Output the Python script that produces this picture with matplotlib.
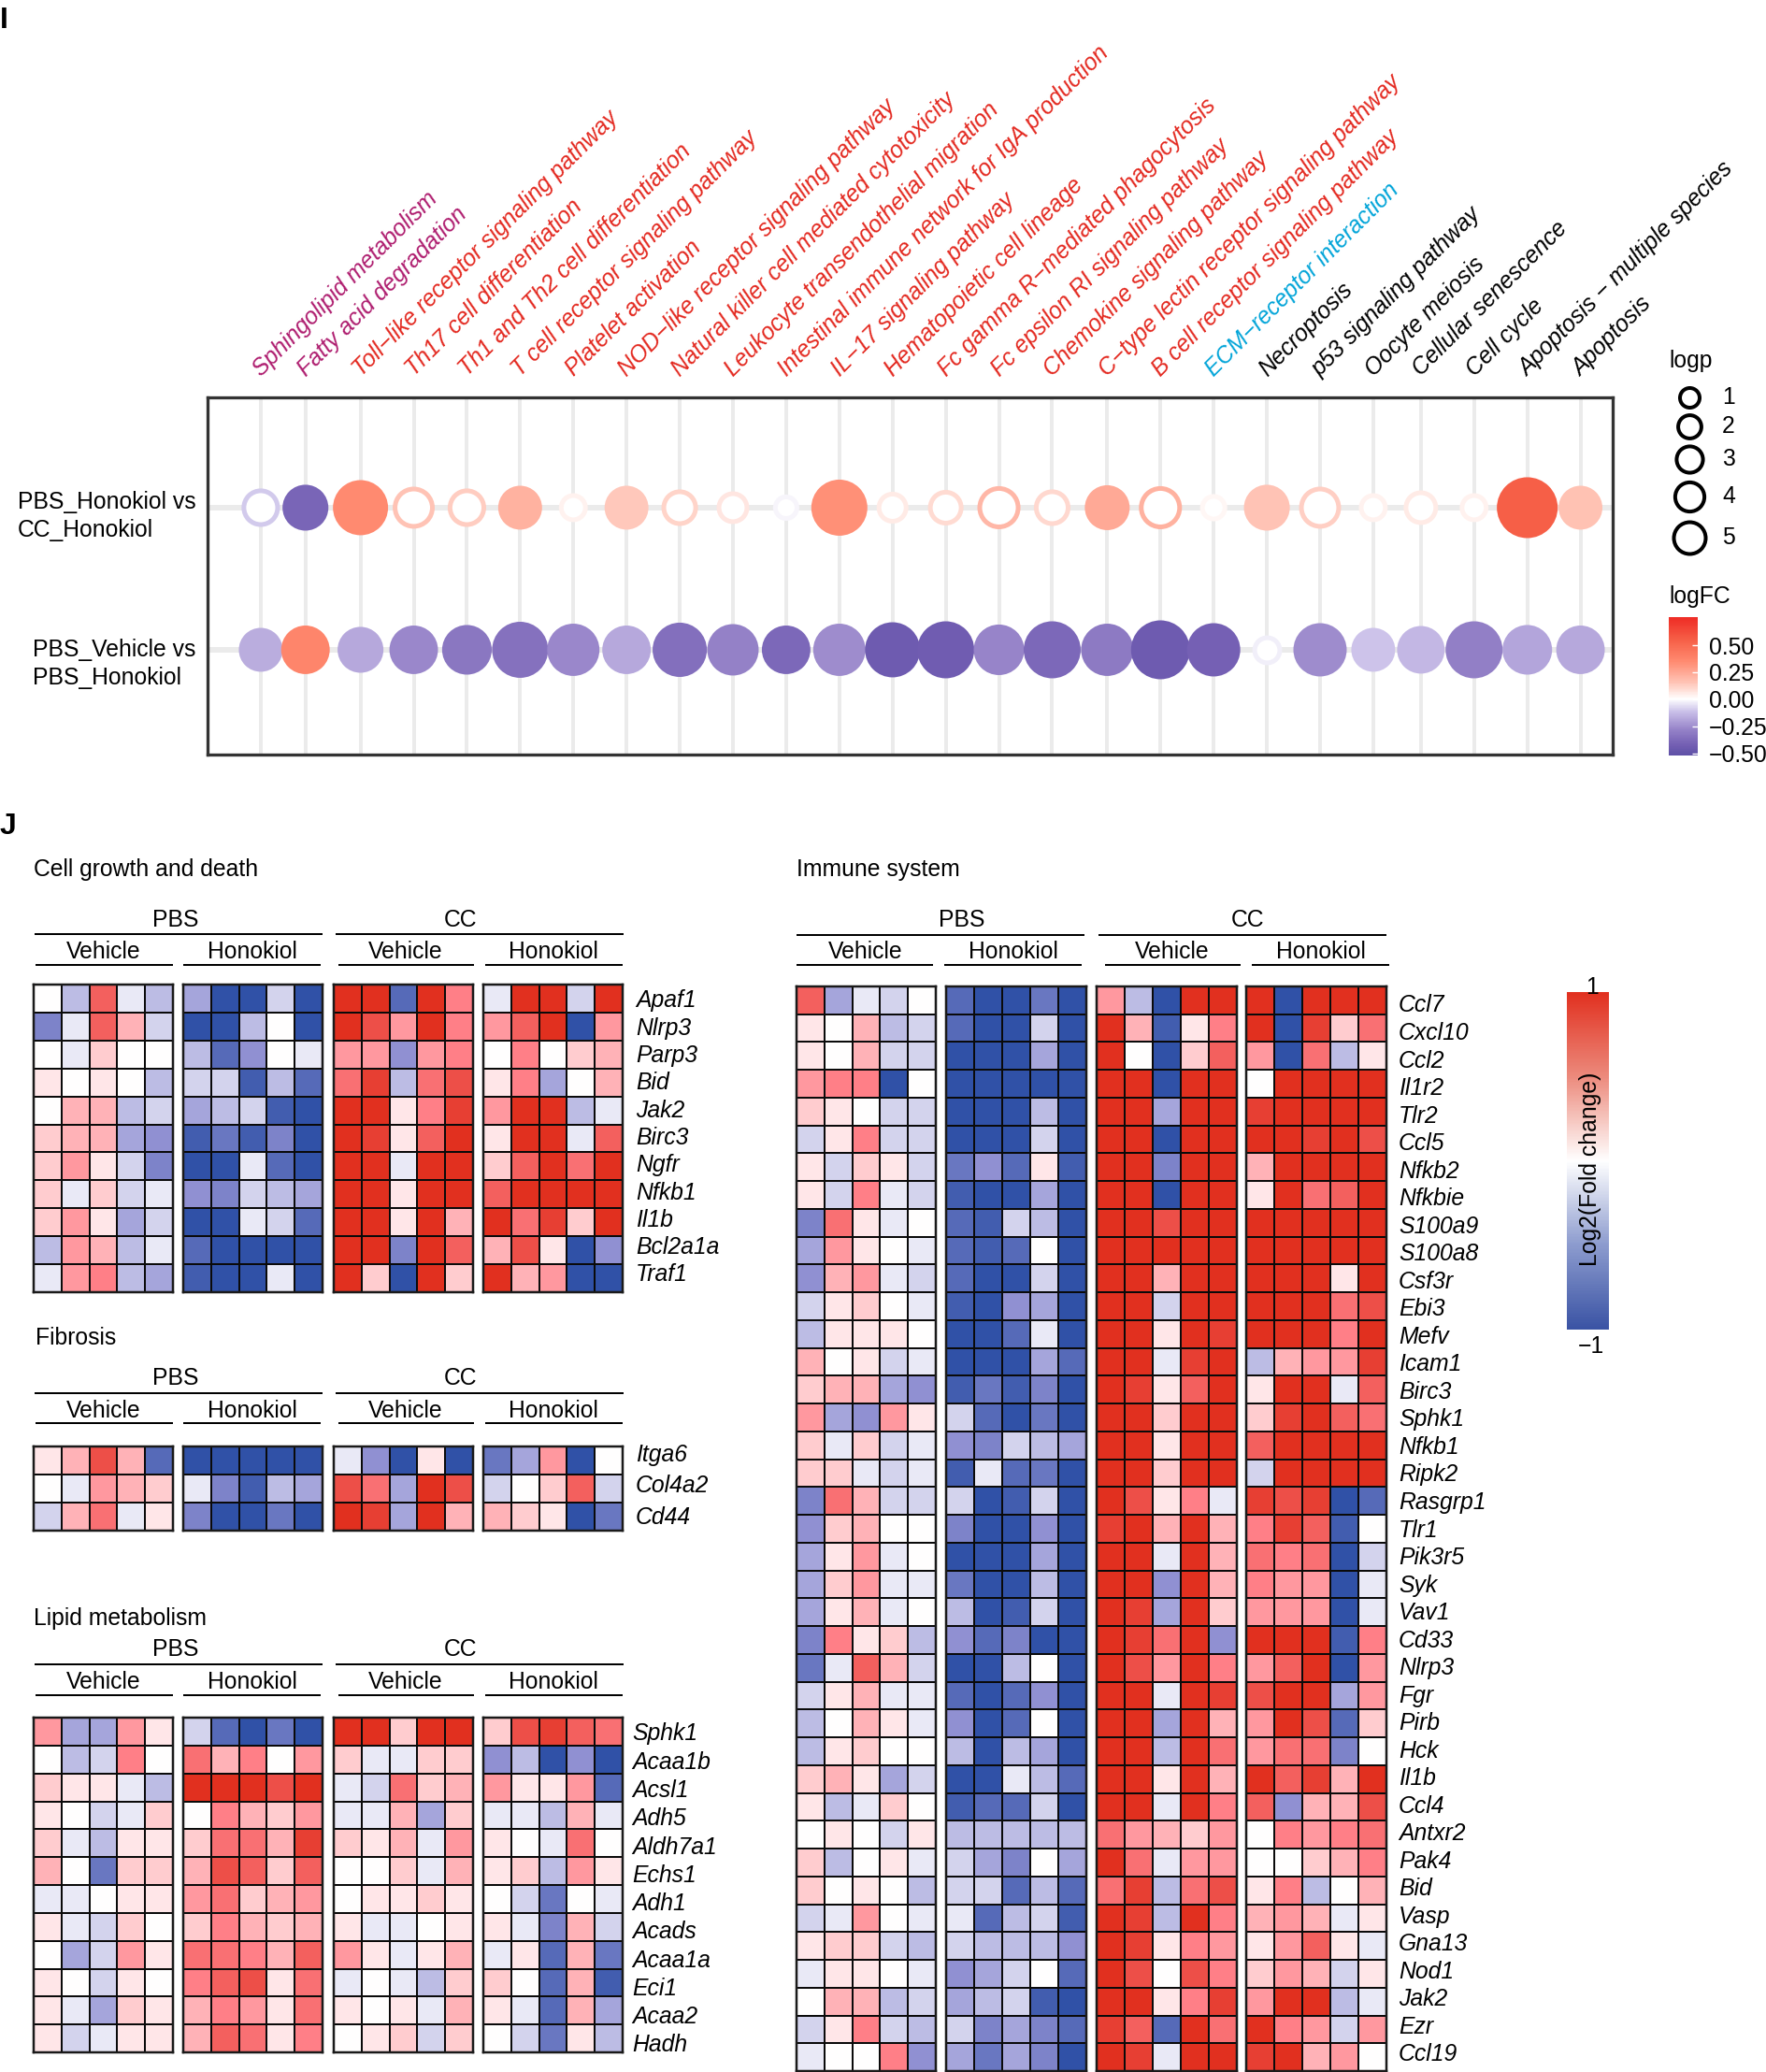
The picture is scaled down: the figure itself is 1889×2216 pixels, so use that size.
"""
KEGG pathway bubble plot (panel I) and log2 fold change heatmaps (panel J).
"""
import matplotlib
matplotlib.use("Agg")
import matplotlib.pyplot as plt
from matplotlib.cm import ScalarMappable
from matplotlib.colors import LinearSegmentedColormap, Normalize, TwoSlopeNorm
from matplotlib.transforms import ScaledTranslation
import numpy as np

WIDTH = 1890
HEIGHT = 2216
FONT = 17.8
PX = 0.72  # points per pixel at dpi 100

plt.rcParams["font.family"] = ["Liberation Sans", "DejaVu Sans"]
plt.rcParams["font.size"] = FONT

# Panel I data
pathways = [
    "Sphingolipid metabolism", "Fatty acid degradation", "Toll−like receptor signaling pathway",
    "Th17 cell differentiation", "Th1 and Th2 cell differentiation", "T cell receptor signaling pathway",
    "Platelet activation", "NOD−like receptor signaling pathway", "Natural killer cell mediated cytotoxicity",
    "Leukocyte transendothelial migration", "Intestinal immune network for IgA production",
    "IL−17 signaling pathway", "Hematopoietic cell lineage", "Fc gamma R−mediated phagocytosis",
    "Fc epsilon RI signaling pathway", "Chemokine signaling pathway", "C−type lectin receptor signaling pathway",
    "B cell receptor signaling pathway", "ECM−receptor interaction", "Necroptosis", "p53 signaling pathway",
    "Oocyte meiosis", "Cellular senescence", "Cell cycle", "Apoptosis − multiple species", "Apoptosis",
]
pathway_groups = ["lipid"] * 2 + ["immune"] * 16 + ["matrix"] + ["death"] * 7
comparisons = ["PBS_Honokiol vs\nCC_Honokiol", "PBS_Vehicle vs\nPBS_Honokiol"]
logp_cc = [6.2, 9.7, 14.9, 7.8, 6.2, 8.7, 2.6, 8.7, 5.4, 3.9, 1.8, 15.5, 3.6,
           5.0, 8.3, 5.4, 9.2, 8.3, 2.1, 9.7, 7.8, 2.6, 4.6, 2.6, 18.6, 8.7]
logfc_cc = [-0.10, -0.40, 0.35, 0.15, 0.13, 0.21, 0.03, 0.14, 0.11, 0.06, -0.02, 0.33, 0.05,
            0.09, 0.19, 0.10, 0.24, 0.21, 0.02, 0.15, 0.12, 0.03, 0.05, 0.03, 0.55, 0.16]
hollow_cc = [1, 0, 0, 1, 1, 0, 1, 0, 1, 1, 1, 0, 1, 1, 1, 1, 0, 1, 1, 0, 1, 1, 1, 1, 0, 0]
logp_pbs = [8.7, 11.1, 9.7, 11.1, 11.7, 15.5, 13.2, 11.1, 14.4, 12.7, 11.1, 13.2, 14.9,
            16.1, 12.2, 16.1, 13.2, 17.3, 13.8, 2.9, 13.8, 8.7, 10.6, 16.1, 11.7, 11.1]
logfc_pbs = [-0.17, 0.37, -0.18, -0.27, -0.33, -0.35, -0.27, -0.18, -0.36, -0.29, -0.39, -0.26, -0.45,
             -0.44, -0.28, -0.39, -0.32, -0.45, -0.42, -0.03, -0.26, -0.11, -0.14, -0.30, -0.19, -0.18]
hollow_pbs = [0] * 19 + [1] + [0] * 6
logp_legend = [1, 2, 3, 4, 5]
logfc_ticks = [-0.50, -0.25, 0.00, 0.25, 0.50]

# Panel J data, fold change in tenths of the colour range
growth_genes = ["Apaf1", "Nlrp3", "Parp3", "Bid", "Jak2", "Birc3", "Ngfr", "Nfkb1", "Il1b", "Bcl2a1a", "Traf1"]
growth_values = [
    [0, -3, 7, -1, -3, -4, -10, -10, -2, -10, 10, 10, -8, 10, 5, -1, 10, 10, -2, 10],
    [-6, -1, 7, 3, -2, -10, -10, -3, 0, -10, 10, 8, 4, 10, 5, 4, 7, 10, -10, 4],
    [0, -1, 2, 0, 0, -3, -8, -5, 0, -1, 4, 4, -5, 4, 5, 0, 5, 0, 2, 3],
    [1, 0, 1, 0, -3, -2, -2, -9, -3, -8, 6, 9, -3, 6, 8, 1, 5, -4, 0, 3],
    [0, 3, 3, -3, -2, -4, -3, -2, -9, -10, 10, 10, 1, 5, 9, 4, 10, 10, -3, -1],
    [2, 3, 3, -4, -5, -9, -7, -9, -6, -10, 10, 9, 1, 7, 10, 1, 10, 10, -1, 7],
    [2, 4, 1, -2, -6, -10, -10, -1, -8, -10, 10, 10, -1, 10, 10, 2, 7, 10, 6, 10],
    [2, -1, 2, -2, -1, -5, -6, -2, -3, -4, 10, 10, 1, 10, 10, 7, 10, 10, 10, 10],
    [2, 4, 1, -4, -2, -10, -10, -1, -2, -8, 10, 10, 1, 10, 3, 10, 6, 9, 2, 10],
    [-3, 4, 3, -3, -1, -8, -10, -10, -10, -10, 10, 10, -6, 10, 7, 3, 8, 1, -10, -5],
    [-1, 4, 5, -3, -4, -9, -10, -10, -1, -10, 10, 2, -10, 10, 2, 10, 3, 4, -10, -10],
]
fibrosis_genes = ["Itga6", "Col4a2", "Cd44"]
fibrosis_values = [
    [1, 3, 8, 3, -8, -10, -10, -10, -10, -10, -1, -5, -10, 1, -10, -7, -4, 4, -10, 0],
    [0, -1, 4, 3, 2, -1, -6, -9, -3, -4, 8, 6, -4, 10, 8, -2, 0, 2, 7, -2],
    [-2, 3, 6, -1, 1, -6, -10, -10, -7, -10, 10, 9, -4, 10, 3, 3, 2, 1, -10, -7],
]
lipid_genes = ["Sphk1", "Acaa1b", "Acsl1", "Adh5", "Aldh7a1", "Echs1", "Adh1", "Acads", "Acaa1a", "Eci1", "Acaa2", "Hadh"]
lipid_values = [
    [4, -4, -4, 4, 1, -2, -8, -10, -7, -10, 10, 10, 2, 10, 10, 2, 8, 9, 7, 6],
    [0, -3, -2, 5, 0, 6, 3, 5, 0, 4, 2, -1, -1, 2, 2, -5, -3, -10, -5, -10],
    [2, 1, 1, -1, -3, 10, 10, 10, 8, 10, -1, -2, 6, 2, 3, 4, 1, 1, 4, -8],
    [1, 0, -2, -1, 2, 0, 5, 3, 2, 4, -1, -1, 3, -4, 2, -1, -1, -3, 3, -1],
    [2, -1, -3, 1, 1, 2, 6, 6, 3, 9, 2, 1, 3, -1, 4, 1, 0, -1, 6, 0],
    [3, 0, -7, 2, 2, 3, 8, 7, 2, 7, 0, 0, 2, -1, 3, 1, 2, -3, 4, 1],
    [-1, -1, 0, 1, 1, 4, 6, 2, 3, 4, 0, 1, 1, 2, 1, 0, -2, -7, 0, -1],
    [1, -1, -2, 2, 0, 2, 5, 3, 2, 3, 1, -1, -1, 0, 1, 1, -1, -6, 3, -2],
    [0, -4, -2, 4, 1, 6, 6, 5, 3, 7, 4, 1, -1, 1, 3, -1, 1, -8, 3, -7],
    [1, 0, -2, 1, 0, 5, 7, 8, 1, 6, -1, 0, -1, -3, 2, 2, 0, -8, 3, -9],
    [1, -1, -4, 2, 1, 3, 5, 4, 1, 6, 1, 0, 1, -1, 3, 1, -1, -8, 3, -4],
    [1, -2, -1, 1, 1, 3, 7, 6, 1, 5, 0, 1, 2, -2, 2, 0, -2, -7, 1, -3],
]
immune_genes = ["Ccl7", "Cxcl10", "Ccl2", "Il1r2", "Tlr2", "Ccl5", "Nfkb2", "Nfkbie", "S100a9", "S100a8", "Csf3r",
                "Ebi3", "Mefv", "Icam1", "Birc3", "Sphk1", "Nfkb1", "Ripk2", "Rasgrp1", "Tlr1", "Pik3r5", "Syk",
                "Vav1", "Cd33", "Nlrp3", "Fgr", "Pirb", "Hck", "Il1b", "Ccl4", "Antxr2", "Pak4", "Bid", "Vasp",
                "Gna13", "Nod1", "Jak2", "Ezr", "Ccl19"]
immune_values = [
    [7, -4, -1, -2, 0, -8, -10, -10, -7, -10, 4, -3, -10, 10, 10, 10, -10, 10, 10, 10],
    [1, 0, 3, -3, -2, -8, -10, -10, -2, -10, 10, 3, -9, 1, 5, 10, -10, 9, 2, 6],
    [1, 0, 3, -2, -2, -10, -10, -10, -4, -10, 10, 0, -10, 2, 7, 4, -10, 6, -3, 1],
    [4, 5, 5, -10, 0, -10, -10, -10, -10, -10, 10, 10, -10, 10, 10, 0, 10, 10, 10, 10],
    [2, 1, 0, -2, -2, -10, -10, -10, -3, -10, 10, 10, -4, 10, 10, 9, 10, 10, 10, 10],
    [-2, 1, 5, -2, -2, -10, -10, -10, -2, -10, 10, 10, -10, 10, 10, 10, 10, 9, 10, 8],
    [1, -2, 2, 1, -2, -7, -5, -8, 1, -9, 10, 10, -6, 10, 10, 3, 10, 10, 10, 10],
    [1, -2, 5, -1, -2, -9, -10, -10, -4, -10, 10, 10, -10, 10, 10, 1, 10, 6, 7, 10],
    [-6, 6, 1, -1, 0, -8, -9, -2, -3, -10, 10, 10, 8, 10, 10, 10, 10, 10, 10, 10],
    [-4, 4, 1, 0, -1, -8, -9, -8, 0, -10, 10, 10, 10, 10, 10, 10, 10, 10, 10, 10],
    [-5, 3, 4, -1, -2, -8, -10, -10, -2, -10, 10, 10, 3, 10, 10, 10, 10, 10, 1, 10],
    [-2, 1, 2, 0, -1, -9, -10, -5, -4, -10, 10, 10, -2, 10, 10, 10, 10, 10, 6, 8],
    [-3, 1, 1, 1, 0, -10, -10, -8, -1, -10, 10, 10, 1, 10, 9, 10, 10, 10, 5, 10],
    [3, 0, 1, -2, -1, -10, -10, -10, -4, -8, 10, 10, -1, 9, 10, -3, 3, 4, 4, 9],
    [2, 3, 3, -4, -5, -9, -7, -9, -6, -10, 10, 9, 1, 7, 10, 1, 10, 10, -1, 7],
    [4, -4, -5, 4, 1, -2, -8, -10, -7, -10, 10, 10, 2, 10, 10, 2, 9, 10, 7, 6],
    [2, -1, 2, -2, -1, -5, -6, -2, -3, -4, 10, 10, 1, 10, 10, 7, 10, 10, 10, 10],
    [2, 2, -1, -2, -1, -9, -1, -8, -7, -10, 10, 10, 2, 10, 10, -2, 10, 10, 10, 10],
    [-6, 6, 3, -2, -2, -2, -10, -9, -2, -10, 10, 8, 1, 5, -1, 9, 8, 9, -10, -8],
    [-5, 2, 3, 0, 0, -6, -10, -10, -5, -10, 9, 10, 3, 10, 3, 5, 9, 7, -9, 0],
    [-4, 1, 4, -1, 0, -10, -10, -10, -4, -10, 10, 10, -1, 10, 3, 6, 5, 6, -10, -2],
    [-4, 2, 4, -1, -1, -7, -10, -10, -3, -10, 10, 10, -5, 10, 3, 5, 4, 4, -10, -1],
    [-4, 1, 3, -1, 0, -3, -10, -9, -2, -10, 10, 9, -4, 10, 2, 4, 4, 4, -10, -1],
    [-6, 5, 1, 2, -3, -5, -8, -6, -10, -10, 10, 9, 6, 10, -5, 10, 10, 10, -9, 5],
    [-7, -1, 7, 3, -2, -10, -10, -3, 0, -10, 10, 8, 4, 10, 5, 4, 7, 10, -10, 4],
    [-2, 1, 3, -1, -1, -8, -10, -8, -5, -10, 10, 10, -1, 10, 9, 8, 10, 10, -4, 4],
    [-3, 0, 3, 1, -1, -5, -10, -8, 0, -10, 10, 10, -4, 10, 3, 4, 10, 8, -8, 2],
    [-3, 1, 2, 0, 0, -3, -10, -3, -4, -10, 10, 10, -3, 10, 6, 4, 6, 6, -6, 0],
    [2, 3, 1, -4, -2, -10, -10, -1, -3, -8, 10, 10, 1, 10, 3, 10, 7, 9, 3, 10],
    [1, -3, -1, 2, 0, -9, -8, -8, -2, -10, 10, 10, -1, 10, 5, 7, -5, 3, 3, 8],
    [0, 1, 0, -2, 1, -3, -3, -3, -3, -3, 6, 4, 3, 2, 4, 0, 5, 4, 5, 6],
    [2, -3, 0, 1, -1, -2, -4, -6, 0, -4, 10, 6, -1, 4, 4, 0, 0, 2, 3, 5],
    [2, 0, 1, 0, -3, -2, -2, -8, -3, -8, 6, 9, -3, 6, 8, 1, 5, -3, 0, 3],
    [-2, -1, 4, 0, -1, -1, -8, -3, -2, -9, 10, 9, -3, 10, 5, 3, 4, 3, -1, 1],
    [1, 2, 2, -2, -3, -2, -3, -3, -3, -5, 10, 9, 1, 5, 4, 1, 4, 7, 1, -1],
    [-1, 1, 1, 0, -1, -5, -4, -2, 0, -8, 10, 8, 0, 8, 5, 2, 4, 3, -2, 1],
    [0, 3, 3, -3, -2, -4, -3, -2, -9, -10, 10, 10, 1, 5, 9, 4, 10, 10, -3, -1],
    [-2, 1, 5, -2, -3, -2, -6, -4, -6, -8, 9, 7, -8, 10, 6, 10, 5, 4, -2, 4],
    [-1, 0, 0, 5, -5, -4, -7, -4, -6, -10, 10, 9, -1, 10, 10, 9, 10, 3, 4, 0],
]

GROUP_COLORS = {"lipid": "#AE1C6E", "immune": "#E3281F", "matrix": "#00A4D8", "death": "black"}
LEFT_BLOCKS = [(36, 185), (196, 345), (357, 506), (517, 666)]
RIGHT_BLOCKS = [(852, 1001), (1012, 1162), (1173, 1323), (1333, 1483)]

heat_cmap = LinearSegmentedColormap.from_list(
    "heat", [(0, "#3051A7"), (0.25, "#9090D2"), (0.5, "#FFFFFF"), (0.75, "#FF8088"), (1, "#E1301F")])
bar_cmap = LinearSegmentedColormap.from_list(
    "bar", [(0, "#3A53A4"), (0.25, "#8C9BCE"), (0.5, "#FFFFFF"), (0.75, "#EC8A7C"), (1, "#E1301F")])
heat_norm = Normalize(-10, 10)

fc_norm = TwoSlopeNorm(vmin=-0.52, vcenter=0, vmax=0.76)
fc_stops = [(-0.52, "#5E50A6"), (-0.42, "#7560B4"), (-0.28, "#9784C9"), (-0.12, "#C9BFE8"), (0, "#FFFFFF"),
            (0.15, "#FFC4B6"), (0.35, "#FF8A70"), (0.55, "#F65F47"), (0.76, "#EE2A24")]
fc_cmap = LinearSegmentedColormap.from_list("fc", [(float(fc_norm(v)), c) for v, c in fc_stops])


def px_axes(fig, x0, y0, x1, y1):
    """Add an axes whose corners are given in image pixels."""
    return fig.add_axes([x0 / WIDTH, 1 - y1 / HEIGHT, (x1 - x0) / WIDTH, (y1 - y0) / HEIGHT])


def bubble_size(logp, stroke=0):
    """Marker area in points^2 for a logp value, less the stroke for hollow rings."""
    diameter = np.sqrt(420 + 205 * np.asarray(logp, dtype=float)) - stroke
    return (diameter * PX) ** 2


def draw_bubbles(fig):
    ax = px_axes(fig, 222, 425, 1725, 807)
    spacing = np.ones(len(pathways) - 1)
    spacing[[0, 1, 15, 21]] = [0.84, 1.035, 1.035, 0.895]
    x = np.concatenate([[0], np.cumsum(spacing)])

    ax.set_xlim(-1, 25.41)
    ax.set_ylim(1.737, -0.776)
    for xi in x:
        ax.axvline(xi, color="#EBEBEB", lw=4 * PX, zorder=1)
    for yi in range(2):
        ax.axhline(yi, color="#EBEBEB", lw=6 * PX, zorder=1)

    rows = [(logp_cc, logfc_cc, hollow_cc), (logp_pbs, logfc_pbs, hollow_pbs)]
    for yi, (logp, logfc, hollow) in enumerate(rows):
        logp = np.array(logp)
        logfc = np.array(logfc)
        hollow = np.array(hollow, dtype=bool)
        ax.scatter(x[~hollow], [yi] * (~hollow).sum(), s=bubble_size(logp[~hollow]), c=logfc[~hollow],
                   cmap=fc_cmap, norm=fc_norm, linewidths=0, zorder=3)
        ax.scatter(x[hollow], [yi] * hollow.sum(), s=bubble_size(logp[hollow], 5), facecolors="white",
                   edgecolors=fc_cmap(fc_norm(logfc[hollow])), linewidths=5 * PX, zorder=3)

    ax.xaxis.tick_top()
    ax.set_xticks(x)
    ax.set_xticklabels(pathways, rotation=45, ha="left", va="bottom", rotation_mode="anchor", style="italic")
    ax.set_yticks([0, 1])
    ax.set_yticklabels(comparisons, ha="right", va="center", multialignment="left", linespacing=1.3)
    ax.tick_params(length=0, pad=9)
    ax.tick_params(axis="x", pad=13)

    for label, group in zip(ax.get_xticklabels(), pathway_groups):
        label.set_color(GROUP_COLORS[group])
        label.set_transform(label.get_transform() + ScaledTranslation(4 / 100, 0, fig.dpi_scale_trans))
    # the two row labels sit a little below their lines, the second one more so
    for label, drop in zip(ax.get_yticklabels(), [9, 15]):
        label.set_transform(label.get_transform() + ScaledTranslation(0, -drop / 100, fig.dpi_scale_trans))

    for spine in ax.spines.values():
        spine.set_linewidth(3.3 * PX)
        spine.set_color("#333333")


def draw_legends(fig, ov):
    ov.text(1785, 386, "logp", va="center")
    for y, value in zip([425, 456, 491, 531, 575], logp_legend):
        ov.scatter([1807], [y], s=bubble_size(value, 4), facecolors="white", edgecolors="black",
                   linewidths=4 * PX)
        ov.text(1849, y, str(value), ha="center", va="center")

    ov.text(1785, 638, "logFC", va="center")
    cax = px_axes(fig, 1785, 660, 1816, 808)
    levels = np.linspace(-0.52, 0.76, 200)
    cax.pcolormesh([0, 1], levels, np.column_stack([levels[:-1]]), cmap=fc_cmap, norm=fc_norm)
    cax.set_xticks([])
    cax.yaxis.tick_right()
    cax.set_yticks(logfc_ticks)
    cax.set_yticklabels([f"{t:.2f}".replace("-", "−") for t in logfc_ticks])
    cax.tick_params(direction="in", color="white", length=4, width=1, pad=8.5)
    for spine in cax.spines.values():
        spine.set_visible(False)

    cax = px_axes(fig, 1676, 1061, 1721, 1422)
    fig.colorbar(ScalarMappable(norm=heat_norm, cmap=bar_cmap), cax=cax, ticks=[]).outline.set_visible(False)
    ov.text(1703, 1056, "1", ha="center", va="center")
    ov.text(1702, 1440, "−1", ha="center", va="center")
    ov.text(1701, 1250, "Log2(Fold change)", rotation=90, ha="center", va="center")


def draw_header(ov, title, title_x, title_y, spans, y_group, y_rule1, y_sub, y_rule2):
    """Panel title, the PBS and CC labels, and the Vehicle and Honokiol rows with their rules."""
    ov.text(title_x, title_y, title, va="center")
    for name, x0, x1, centre in spans["group"]:
        ov.text(centre, y_group, name, ha="center", va="center")
        ov.plot([x0, x1], [y_rule1, y_rule1], color="black", lw=2 * PX, solid_capstyle="butt")
    for name, x0, x1, centre in spans["sub"]:
        ov.text(centre, y_sub, name, ha="center", va="center")
        ov.plot([x0, x1], [y_rule2, y_rule2], color="black", lw=2 * PX, solid_capstyle="butt")


def draw_heat(fig, blocks, y0, y1, genes, values, label_x, label_first, label_last):
    """One row of four heatmap blocks; gene labels go to the right of the last one."""
    data = np.array(values, dtype=float)
    for k, (x0, x1) in enumerate(blocks):
        ax = px_axes(fig, x0, y0, x1, y1)
        ax.pcolormesh(data[:, 5 * k:5 * k + 5], cmap=heat_cmap, norm=heat_norm,
                      edgecolors="#0A0A0A", linewidth=2 * PX)
        ax.set_ylim(len(genes), 0)
        ax.set_xticks([])
        ax.set_yticks([])
        for spine in ax.spines.values():
            spine.set_linewidth(2.5 * PX)
            spine.set_color("#1A1A1A")

    # the labels sit on their own slightly different pitch, measured at cap centre
    row_h = (y1 - y0) / len(genes)
    targets = np.linspace(label_first, label_last, len(genes))
    for i, gene in enumerate(genes):
        shift = targets[i] + 8.5 - (y0 + (i + 0.5) * row_h)
        ax.annotate(gene, xy=(5, i + 0.5), xytext=((label_x - blocks[-1][1]) * PX, -shift * PX),
                    textcoords="offset points", ha="left", va="baseline", style="italic", annotation_clip=False)


def main():
    fig = plt.figure(figsize=(WIDTH / 100, HEIGHT / 100), dpi=100)
    ov = fig.add_axes([0, 0, 1, 1], zorder=10)
    ov.set_xlim(0, WIDTH)
    ov.set_ylim(HEIGHT, 0)
    ov.axis("off")

    ov.text(0, 22, "I", weight="bold", size=23, va="center")
    ov.text(0, 884, "J", weight="bold", size=23, va="center")

    draw_bubbles(fig)
    draw_legends(fig, ov)

    left_spans = {
        "group": [("PBS", 37, 345, 188), ("CC", 359, 667, 493)],
        "sub": [("Vehicle", 38, 185, 111), ("Honokiol", 196, 343, 270),
                ("Vehicle", 362, 507, 434), ("Honokiol", 519, 666, 592)],
    }
    right_spans = {
        "group": [("PBS", 852, 1160, 1029), ("CC", 1175, 1483, 1335)],
        "sub": [("Vehicle", 852, 998, 926), ("Honokiol", 1010, 1157, 1084),
                ("Vehicle", 1182, 1327, 1254), ("Honokiol", 1339, 1486, 1413)],
    }

    draw_header(ov, "Cell growth and death", 36, 930, left_spans, 984, 999, 1018, 1032)
    draw_heat(fig, LEFT_BLOCKS, 1053, 1382, growth_genes, growth_values, 680, 1069, 1362)

    draw_header(ov, "Fibrosis", 38, 1431, left_spans, 1474, 1490, 1509, 1522)
    draw_heat(fig, LEFT_BLOCKS, 1547, 1637, fibrosis_genes, fibrosis_values, 680, 1554, 1621)

    draw_header(ov, "Lipid metabolism", 36, 1731, left_spans, 1764, 1780, 1799, 1813)
    draw_heat(fig, LEFT_BLOCKS, 1837, 2195, lipid_genes, lipid_values, 676, 1853, 2186)

    draw_header(ov, "Immune system", 852, 930, right_spans, 984, 1000, 1018, 1032)
    draw_heat(fig, RIGHT_BLOCKS, 1055, 2215, immune_genes, immune_values, 1496, 1074, 2196)

    fig.savefig("out.png", dpi=100)


if __name__ == "__main__":
    main()
